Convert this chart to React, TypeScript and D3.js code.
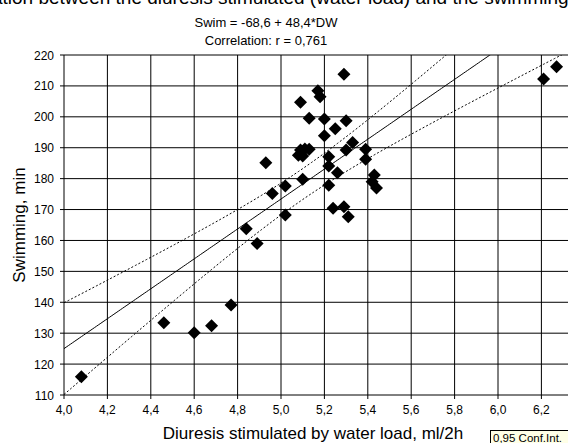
import React from "react";
import * as d3 from "d3";

const diuresis = [4.08, 4.46, 4.60, 4.68, 4.77, 4.84, 4.89, 4.93, 4.96, 5.02, 5.02, 5.09, 5.13, 5.08, 5.09, 5.11, 5.13, 5.10, 5.10, 5.17, 5.18, 5.20, 5.20, 5.22, 5.22, 5.22, 5.25, 5.29, 5.30, 5.30, 5.33, 5.26, 5.24, 5.29, 5.31, 5.39, 5.39, 5.43, 5.42, 5.44, 6.21, 6.27];
const swim = [115.9, 133.4, 130.1, 132.4, 139.1, 163.8, 159.0, 185.1, 175.2, 177.6, 168.2, 204.7, 199.5, 187.6, 189.3, 189.6, 189.5, 187.3, 179.8, 208.4, 206.5, 199.3, 193.9, 187.1, 184.1, 177.9, 196.1, 213.8, 198.7, 189.3, 191.7, 181.9, 170.4, 170.9, 167.7, 189.5, 186.3, 181.2, 179.0, 177.0, 212.2, 216.2];

const xTicks = [4.0, 4.2, 4.4, 4.6, 4.8, 5.0, 5.2, 5.4, 5.6, 5.8, 6.0, 6.2];
const yTicks = [110, 120, 130, 140, 150, 160, 170, 180, 190, 200, 210, 220];

const intercept = -68.6;
const slope = 48.4;
const bandCenter = 5.1;
const bandA = 5.0;
const bandB = 12.7;

const W = 568;
const H = 443;
const fmt = (v: number, d: number) => v.toFixed(d).replace(".", ",");

export default function App() {
  const x = d3.scaleLinear().domain([4.0, 6.4]).range([64, 584.8]);
  const y = d3.scaleLinear().domain([110, 220]).range([395, 55]);
  const xs = d3.range(4.0, 6.401, 0.01);
  const fit = (v: number) => intercept + slope * v;
  const hw = (v: number) => Math.sqrt(bandA * bandA + bandB * bandB * (v - bandCenter) * (v - bandCenter));
  const line = d3.line<number[]>().x((d) => x(d[0])).y((d) => y(d[1]));
  const fitPath = line(xs.map((v) => [v, fit(v)]));
  const upPath = line(xs.map((v) => [v, fit(v) + hw(v)]));
  const loPath = line(xs.map((v) => [v, fit(v) - hw(v)]));
  const r = 6.5;
  const font = "Arial, 'Liberation Sans', sans-serif";

  return (
    <div style={{ position: "fixed", left: 0, top: 0 }}>
      <svg width={W} height={H} style={{ display: "block", background: "#fff" }} fontFamily={font}>
        <defs>
          <clipPath id="plot">
            <rect x={64} y={55} width={584.8 - 64} height={340} />
          </clipPath>
        </defs>
        <text x={275} y={4} fontSize={19} textAnchor="middle" fill="#000">
          Correlation between the diuresis stimulated (water load) and the swimming time
        </text>
        <text x={266} y={27} fontSize={13} textAnchor="middle">Swim = -68,6 + 48,4*DW</text>
        <text x={266} y={45} fontSize={13} textAnchor="middle">Correlation: r = 0,761</text>
        {yTicks.map((t) => (
          <g key={"y" + t}>
            <line x1={60} x2={584.8} y1={y(t)} y2={y(t)} stroke="#000" strokeWidth={1} />
            <text x={54} y={y(t) + 4.5} fontSize={12} textAnchor="end">{t}</text>
          </g>
        ))}
        {xTicks.map((t) => (
          <g key={"x" + t}>
            <line x1={x(t)} x2={x(t)} y1={55} y2={399} stroke="#000" strokeWidth={1} />
            <text x={x(t)} y={414} fontSize={12} textAnchor="middle">{fmt(t, 1)}</text>
          </g>
        ))}
        <g clipPath="url(#plot)" fill="none" stroke="#000">
          <path d={fitPath || ""} strokeWidth={1} />
          <path d={upPath || ""} strokeWidth={1} strokeDasharray="2,2" />
          <path d={loPath || ""} strokeWidth={1} strokeDasharray="2,2" />
        </g>
        <g clipPath="url(#plot)">
          {diuresis.map((v, i) => {
            const cx = x(v);
            const cy = y(swim[i]);
            return (
              <path key={i} d={`M${cx},${cy - r}L${cx + r},${cy}L${cx},${cy + r}L${cx - r},${cy}Z`} fill="#000" />
            );
          })}
        </g>
        <text x={313} y={439} fontSize={17} textAnchor="middle">Diuresis stimulated by water load, ml/2h</text>
        <text transform="translate(25,225) rotate(-90)" fontSize={17} textAnchor="middle">Swimming, min</text>
        <rect x={490.5} y={430.5} width={90} height={20} fill="#ffffe6" stroke="#000" strokeWidth={1} />
        <text x={493} y={442} fontSize={11.5}>0,95 Conf.Int.</text>
      </svg>
    </div>
  );
}
